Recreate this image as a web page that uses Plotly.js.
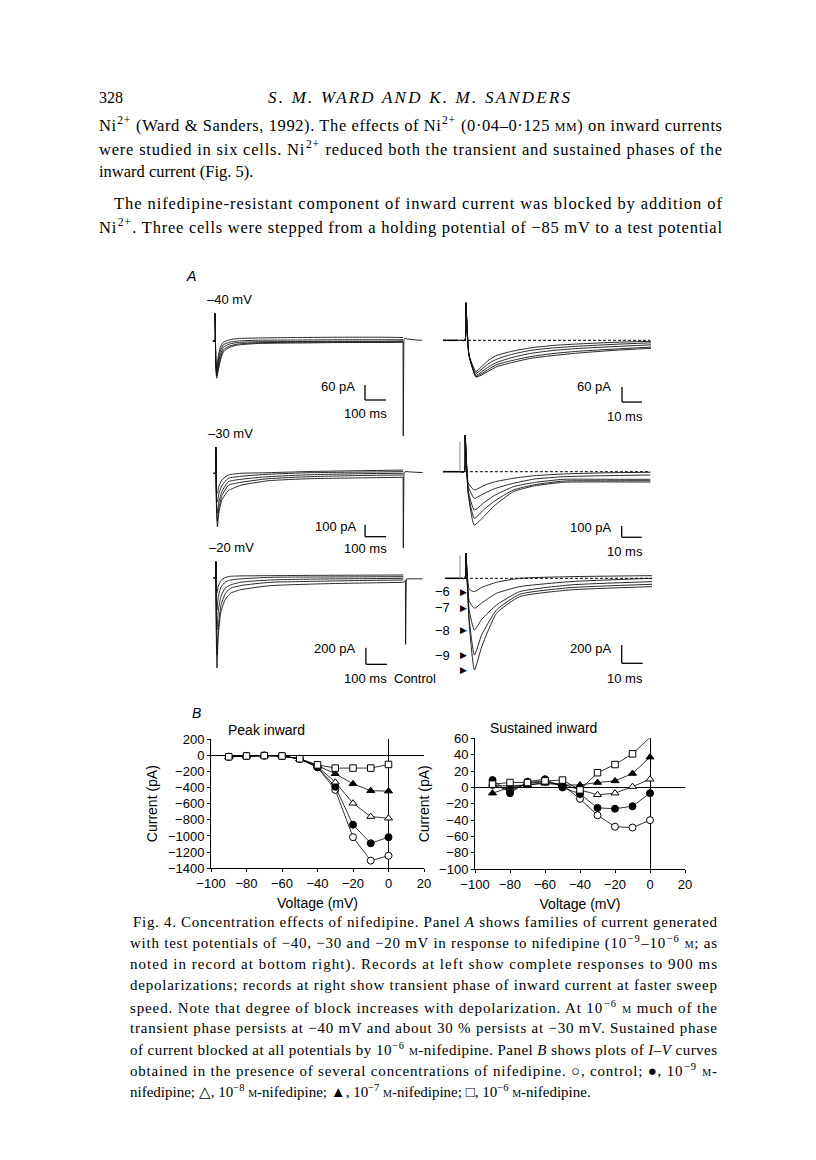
<!DOCTYPE html>
<html><head><meta charset="utf-8">
<script src="https://cdn.plot.ly/plotly-3.0.1.min.js"></script>
<style>html,body{margin:0;padding:0;background:#fff}#fig{width:816px;height:1160px}</style>
</head><body><div id="fig"></div>
<script>
// ================= DATA =================
// Panel B : I-V curves
const voltage = [-90,-80,-70,-60,-50,-40,-30,-20,-10,0];
const peakControl = [-20,-10,-5,-10,-45,-150,-430,-1015,-1305,-1245];
const peakNif9    = [-20,-10,-5,-10,-45,-150,-390,-860,-1090,-1015];
const peakNif8    = [-20,-10,-5,-10,-45,-140,-335,-595,-760,-780];
const peakNif7    = [-20,-10,-5,-10,-45,-130,-230,-355,-440,-445];
const peakNif6    = [-20,-10,-5,-10,-45,-120,-160,-160,-160,-115];
const sustControl = [3,-4,5,7,3,-14,-34,-48,-49,-40];
const sustNif9    = [9,-7,7,10,0,-8,-25,-26,-23,-7];
const sustNif8    = [2,2,3,6,4,-3,-9,-7,1,10];
const sustNif7    = [-7,0,3,5,3,3,6,8,17,37];
const sustNif6    = [4,6,6,8,9,-3,18,28,41,61];
const voltTicks = [-100,-80,-60,-40,-20,0,20];
const peakTicks = [200,0,-200,-400,-600,-800,-1000,-1200,-1400];
const sustTicks = [60,40,20,0,-20,-40,-60,-80,-100];

// Panel A : current traces (time ms, current pA); series control, 1e-9, 1e-8, 1e-7, 1e-6 M
const tL40 = [-10,0,0.5,4,8,15,25,40,70,110,200,400,600,800,895];
const L40ctrl = [0,0,110,-100,-149,-120,-80,-43,-25,-16,-10,-8,-6,-6,-5];
const L40n9   = [0,0,110,-95,-140,-110,-70,-35,-20,-12,-7,-5,-4,-4,-3];
const L40n8   = [0,0,110,-90,-130,-95,-55,-25,-12,-6,-3,-2,-1,-1,0];
const L40n7   = [0,0,110,-85,-120,-80,-40,-15,-5,0,3,4,5,5,5];
const L40n6   = [0,0,110,-80,-110,-65,-25,-5,5,10,12,14,15,15,14];
const tL40off = [895,896,899,905,915,935,960,985];
const L40off  = [-5,-380,5,12,8,5,4,3];

const tR40 = [-2,0,0.4,2,5.5,8,12,16,24,33,45,58,75,93];
const R40ctrl = [0,0,150,-60,-147,-140,-122,-105,-88,-72,-60,-50,-40,-32];
const R40n9   = [0,0,150,-60,-145,-135,-115,-97,-80,-65,-52,-43,-35,-27];
const R40n8   = [0,0,150,-60,-140,-128,-105,-88,-68,-52,-40,-32,-25,-18];
const R40n7   = [0,0,150,-60,-132,-118,-92,-75,-55,-40,-30,-23,-16,-10];
const R40n6   = [0,0,150,-60,-125,-108,-78,-60,-43,-30,-20,-14,-8,-4];

const tL30 = [-10,0,0.5,4,8,15,30,60,120,250,450,700,892];
const L30ctrl = [0,0,219,-300,-447,-330,-220,-145,-100,-62,-45,-38,-33];
const L30n9   = [0,0,219,-280,-400,-290,-185,-100,-75,-45,-28,-18,-14];
const L30n8   = [0,0,219,-250,-330,-240,-150,-70,-50,-28,-12,-3,0];
const L30n7   = [0,0,219,-200,-240,-170,-100,-42,-25,-8,5,10,14];
const L30n6   = [0,0,219,-150,-165,-110,-55,-14,0,5,15,22,27];
const tL30off = [892,893,896,905,920,950,985];
const L30off  = [-33,-622,5,15,12,8,6];

const tR30 = [-2,0,0.4,2,5,10,15,24.5,35,49.5,70,93];
const R30ctrl = [0,0,323,-200,-469,-390,-300,-176,-125,-93,-90,-91];
const R30n9   = [0,0,323,-190,-410,-330,-260,-161,-115,-82,-80,-79];
const R30n8   = [0,0,323,-170,-337,-270,-210,-132,-95,-67,-67,-67];
const R30n7   = [0,0,323,-130,-234,-190,-150,-102,-65,-44,-35,-29];
const R30n6   = [0,0,323,-100,-161,-120,-90,-58,-35,-20,-10,-5];

const tL20 = [-10,0,0.5,3,6,12,25,45,70,120,260,500,700,893];
const L20ctrl = [0,0,196,-700,-1080,-700,-400,-260,-184,-140,-92,-70,-60,-52];
const L20n9   = [0,0,196,-600,-924,-600,-330,-190,-124,-90,-52,-38,-30,-24];
const L20n8   = [0,0,196,-450,-624,-400,-220,-120,-84,-50,-24,-12,-8,-4];
const L20n7   = [0,0,196,-300,-384,-230,-110,-50,-24,-10,8,12,14,16];
const L20n6   = [0,0,196,-150,-180,-100,-30,5,20,25,28,32,34,36];
const tL20off = [893,903,904,907,930,985];
const L20off  = [-52,-30,-796,-12,-10,-10];

const tR20 = [-2,0,0.4,2,4.5,8,15,26,50,89];
const R20ctrl = [0,0,278,-500,-1009,-750,-385,-202,-128,-92];
const R20n9   = [0,0,278,-450,-844,-620,-349,-176,-103,-66];
const R20n8   = [0,0,278,-350,-569,-450,-294,-147,-73,-37];
const R20n7   = [0,0,278,-250,-330,-270,-165,-92,-37,0];
const R20n6   = [0,0,278,-120,-147,-100,-44,0,18,29];
const concLabels = ['\u22126','\u22127','\u22128','\u22129'];

// ================= LAYOUT HELPERS =================
const W = 816, H = 1160;
const X = p => p / W, Y = p => 1 - p / H;
const SANS = 'Liberation Sans, Arial, sans-serif';
const SERIF = 'Liberation Serif, Times New Roman, serif';

const traces = [];
const justify = [];   // [annotation index, target width px]
const layout = {
  width: W, height: H, margin: {l:0, r:0, t:0, b:0},
  paper_bgcolor: '#fff', plot_bgcolor: 'rgba(0,0,0,0)',
  showlegend: false, annotations: [], shapes: [],
  font: {family: SANS, color: '#000'}
};
function ann(text, x, y, o) {
  o = o || {};
  layout.annotations.push(Object.assign({
    text: text, x: X(x), y: Y(y), xref: 'paper', yref: 'paper',
    xanchor: o.xa || 'left', yanchor: 'middle', showarrow: false,
    font: {family: o.family || SANS, size: o.size || 13, color: '#000'}
  }, o.extra || {}));
  if (o.width) justify.push([layout.annotations.length - 1, o.width]);
}

// Panel A trace panels: calibration (pixel of t=0, ms per px, pixel of 0 pA, pA per px), domain px [l,r,top,bottom]
const panels = [
  {id:3, x0:215,   ms:4.76,  y0:341,   pa:4,    dom:[205,430,300,440], t:tL40, s:[L40ctrl,L40n9,L40n8,L40n7,L40n6], off:[tL40off,L40off], bar:[714,-236,100,60]},
  {id:4, x0:465,   ms:0.5,   y0:340.3, pa:4,    dom:[440,660,295,420], t:tR40, s:[R40ctrl,R40n9,R40n8,R40n7,R40n6], bar:[78.5,-247,10,60], base:[-3.5,92.5], hold:[-11,-3.5]},
  {id:5, x0:215.7, ms:4.76,  y0:473.3, pa:8.33, dom:[205,430,442,560], t:tL30, s:[L30ctrl,L30n9,L30n8,L30n7,L30n6], off:[tL30off,L30off], bar:[711,-528,100,100]},
  {id:6, x0:464.3, ms:0.5,   y0:471.7, pa:8.8,  dom:[440,660,430,550], t:tR30, s:[R30ctrl,R30n9,R30n8,R30n7,R30n6], bar:[78.7,-577,10,100], base:[-2.2,93], hold:[-10.7,-2.2], cap:264},
  {id:7, x0:215.7, ms:4.76,  y0:578,   pa:12,   dom:[205,430,558,680], t:tL20, s:[L20ctrl,L20n9,L20n8,L20n7,L20n6], off:[tL20off,L20off], bar:[715,-1036,100,200]},
  {id:8, x0:465,   ms:0.476, y0:578.3, pa:11,   dom:[440,660,550,690], t:tR20, s:[R20ctrl,R20n9,R20n8,R20n7,R20n6], bar:[74.6,-935,10,200], base:[-2.4,89], hold:[-9.5,-2.4], cap:253}
];
panels.forEach(p => {
  const xa = 'x' + p.id, ya = 'y' + p.id;
  layout['xaxis' + p.id] = {domain:[X(p.dom[0]), X(p.dom[1])], range:[(p.dom[0]-p.x0)*p.ms, (p.dom[1]-p.x0)*p.ms], visible:false, anchor:ya, fixedrange:true};
  layout['yaxis' + p.id] = {domain:[Y(p.dom[3]), Y(p.dom[2])], range:[-(p.dom[3]-p.y0)*p.pa, (p.y0-p.dom[2])*p.pa], visible:false, anchor:xa, fixedrange:true};
  p.s.forEach(v => traces.push({x:p.t, y:v, xaxis:xa, yaxis:ya, type:'scatter', mode:'lines',
    line:{color:'#111', width:0.9, shape:'spline', smoothing:0.5}, hoverinfo:'skip'}));
  if (p.off) traces.push({x:p.off[0], y:p.off[1], xaxis:xa, yaxis:ya, type:'scatter', mode:'lines',
    line:{color:'#111', width:0.9}, hoverinfo:'skip'});
  const b = p.bar;
  layout.shapes.push({type:'line', xref:xa, yref:ya, x0:b[0], x1:b[0], y0:b[1], y1:b[1]+b[3], line:{color:'#000', width:1.3}});
  layout.shapes.push({type:'line', xref:xa, yref:ya, x0:b[0], x1:b[0]+b[2], y0:b[1], y1:b[1], line:{color:'#000', width:1.3}});
  if (p.base) layout.shapes.push({type:'line', xref:xa, yref:ya, x0:p.base[0], x1:p.base[1], y0:0, y1:0, line:{color:'#000', width:1, dash:'3px,2px'}});
  if (p.hold) layout.shapes.push({type:'line', xref:xa, yref:ya, x0:p.hold[0], x1:p.hold[1], y0:0, y1:0, line:{color:'#000', width:1.6}});
  if (p.cap) layout.shapes.push({type:'line', xref:xa, yref:ya, x0:p.hold[1], x1:p.hold[1], y0:0, y1:p.cap, line:{color:'#777', width:0.8}});
});

// Panel B axes
function ivAxes(n, xdom, ydom, yr, yt) {
  const common = {showline:true, linecolor:'#000', linewidth:1, ticks:'outside', ticklen:3, tickcolor:'#000',
    showgrid:false, zeroline:true, zerolinecolor:'#000', zerolinewidth:1, fixedrange:true,
    tickfont:{family:SANS, size:13, color:'#000'}};
  const sx = n === 1 ? '' : String(n);
  layout['xaxis' + sx] = Object.assign({}, common, {domain:[X(xdom[0]), X(xdom[1])], range:[-100,20], tickvals:voltTicks,
    anchor:'y' + sx, title:{text:'Voltage (mV)', font:{family:SANS, size:14, color:'#000'}, standoff:8}});
  layout['yaxis' + sx] = Object.assign({}, common, {domain:[Y(ydom[1]), Y(ydom[0])], range:yr, tickvals:yt,
    anchor:'x' + sx, title:{text:'Current (pA)', font:{family:SANS, size:14, color:'#000'}, standoff:6}});
}
ivAxes(1, [211,424], [739,868.3], [-1400,200], peakTicks);
ivAxes(2, [475,685], [738.3,869.3], [-100,60], sustTicks);

const ivStyles = [
  {symbol:'circle', color:'#fff'}, {symbol:'circle', color:'#000'},
  {symbol:'triangle-up', color:'#fff'}, {symbol:'triangle-up', color:'#000'},
  {symbol:'square', color:'#fff'}
];
[[peakControl,peakNif9,peakNif8,peakNif7,peakNif6],[sustControl,sustNif9,sustNif8,sustNif7,sustNif6]].forEach((grp, gi) => {
  grp.forEach((vals, i) => traces.push({
    x: voltage, y: vals, xaxis: gi ? 'x2' : 'x', yaxis: gi ? 'y2' : 'y', type:'scatter', mode:'lines+markers',
    line:{color:'#000', width:0.8},
    marker:{symbol:ivStyles[i].symbol, size: i===4 ? 6.5 : 7, color:ivStyles[i].color, line:{color:'#000', width:1}},
    cliponaxis:false, hoverinfo:'skip'
  }));
});

// ================= TEXT =================
ann('328', 97, 97, {family:SERIF, size:16});
ann('<i>S. M. WARD AND K. M. SANDERS</i>', 266, 97, {family:SERIF, size:17, width:302});
const body = [
  ['Ni<sup>2+</sup> (Ward &amp; Sanders, 1992). The effects of Ni<sup>2+</sup> (0\u00b704\u20130\u00b7125 <span style="font-size:12px">MM</span>) on inward currents', 97, 125, 623],
  ['were studied in six cells. Ni<sup>2+</sup> reduced both the transient and sustained phases of the', 97, 148, 623],
  ['inward current (Fig. 5).', 97, 171, 0],
  ['The nifedipine-resistant component of inward current was blocked by addition of', 112, 203, 608],
  ['Ni<sup>2+</sup>. Three cells were stepped from a holding potential of \u221285 mV to a test potential', 97, 226, 623]
];
body.forEach(b => ann(b[0], b[1], b[2], {family:SERIF, size:16.5, width:b[3]}));

const M = '<span style="font-size:10px">M</span>';
const caption = [
  'Fig. 4. Concentration effects of nifedipine. Panel <i>A</i> shows families of current generated',
  'with test potentials of \u221240, \u221230 and \u221220 mV in response to nifedipine (10<sup>\u22129</sup>\u201310<sup>\u22126</sup> ' + M + '; as',
  'noted in record at bottom right). Records at left show complete responses to 900 ms',
  'depolarizations; records at right show transient phase of inward current at faster sweep',
  'speed. Note that degree of block increases with depolarization. At 10<sup>\u22126</sup> ' + M + ' much of the',
  'transient phase persists at \u221240 mV and about 30 % persists at \u221230 mV. Sustained phase',
  'of current blocked at all potentials by 10<sup>\u22126</sup> ' + M + '-nifedipine. Panel <i>B</i> shows plots of <i>I\u2013V</i> curves',
  'obtained in the presence of several concentrations of nifedipine. \u25cb, control; \u25cf, 10<sup>\u22129</sup> ' + M + '-',
  'nifedipine; \u25b3, 10<sup>\u22128</sup> ' + M + '-nifedipine; \u25b2, 10<sup>\u22127</sup> ' + M + '-nifedipine; \u25a1, 10<sup>\u22126</sup> ' + M + '-nifedipine.'
];
caption.forEach((c, i) => ann(c, i === 0 ? 131 : 128, 921.7 + i * 21.2,
  {family:SERIF, size:15, width: i === 8 ? 0 : (i === 0 ? 584 : 587)}));

// Panel labels
ann('<i>A</i>', 184, 276, {size:14});
ann('<i>B</i>', 190, 713, {size:14});
ann('\u201340 mV', 205, 299);
ann('\u201330 mV', 206, 433);
ann('\u201320 mV', 207, 547);
ann('60 pA', 338, 387, {xa:'center'});
ann('100 ms', 365, 413, {xa:'center'});
ann('60 pA', 594, 387, {xa:'center'});
ann('10 ms', 625, 416, {xa:'center'});
ann('100 pA', 336, 526, {xa:'center'});
ann('100 ms', 365.5, 549, {xa:'center'});
ann('100 pA', 591, 527, {xa:'center'});
ann('10 ms', 625, 551, {xa:'center'});
ann('200 pA', 335, 648, {xa:'center'});
ann('100 ms', 365, 678, {xa:'center'});
ann('Control', 392, 678);
ann('200 pA', 591, 648, {xa:'center'});
ann('10 ms', 625, 678, {xa:'center'});
ann('Peak inward', 226, 730, {size:14});
ann('Sustained inward', 488, 728, {size:14});
const concY = [591, 607.7, 630, 655.7];
concLabels.forEach((c, i) => ann(c, 443, concY[i], {xa:'center'}));
[591.7, 608.3, 630, 655, 670].forEach(yy => ann('\u25b6', 457.5, yy, {size:9, family:'DejaVu Sans'}));

Plotly.newPlot('fig', traces, layout, {staticPlot:true, displayModeBar:false}).then(() => {
  justify.forEach(([idx, w]) => {
    if (!w) return;
    const g = document.querySelector('g.annotation[data-index="' + idx + '"]');
    if (!g) return;
    const t = g.querySelector('text.annotation-text');
    if (!t) return;
    const left = t.getBBox().x;
    t.setAttribute('text-anchor', 'start');
    t.style.textAnchor = 'start';
    t.setAttribute('x', left);
    t.setAttribute('textLength', w);
    t.setAttribute('lengthAdjust', 'spacing');
  });
});
</script>
</body></html>
